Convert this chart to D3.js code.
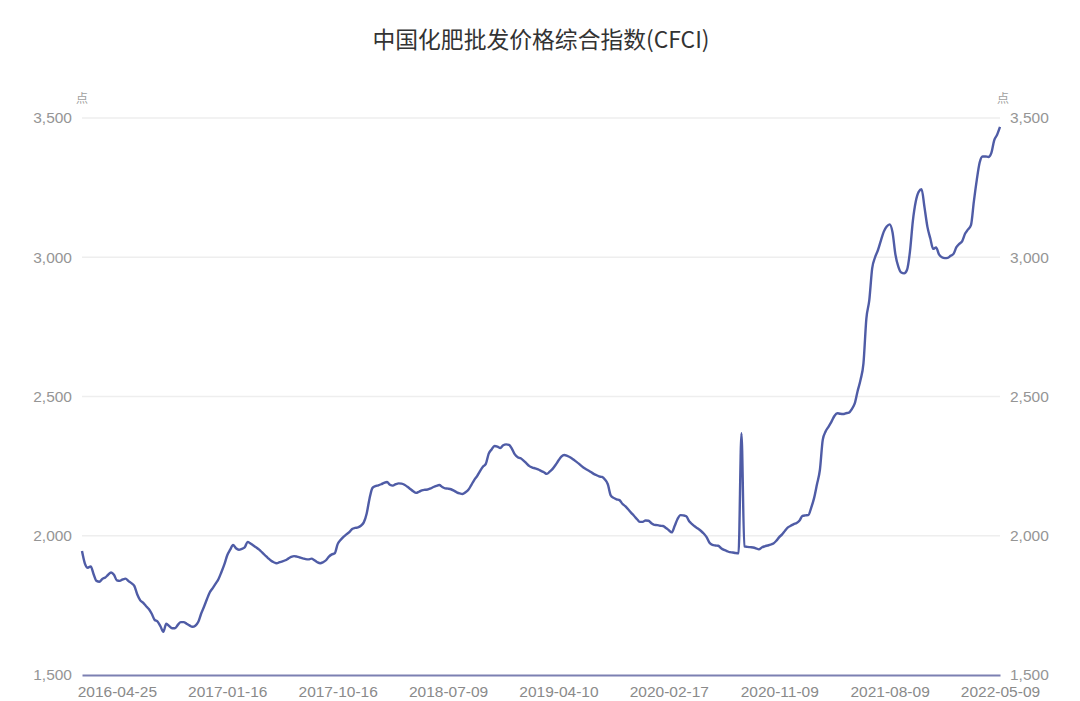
<!DOCTYPE html>
<html><head><meta charset="utf-8">
<script src="https://cdn.jsdelivr.net/npm/d3@7/dist/d3.min.js"></script>
<style>
html,body{margin:0;padding:0;background:#fff;}
svg{display:block;}
</style></head>
<body>
<svg id="chart" width="1080" height="701"></svg>
<script>
const title = "中国化肥批发价格综合指数(CFCI)";
const unitLabel = "点";
const yTicks = [1500, 2000, 2500, 3000, 3500];
const xTickIndex = [12, 50, 88, 126, 164, 202, 240, 278, 316];
const xTickLabels = ["2016-04-25","2017-01-16","2017-10-16","2018-07-09","2019-04-10","2020-02-17","2020-11-09","2021-08-09","2022-05-09"];
// weekly CFCI values
const values = [
1945,1900,1885,1890,1862,1838,1835,1845,1850,1860,
1868,1860,1840,1838,1843,1846,1837,1830,1820,1790,
1769,1760,1748,1737,1720,1698,1692,1675,1655,1684,
1676,1668,1668,1680,1690,1690,1684,1678,1673,1677,
1690,1720,1745,1772,1797,1812,1828,1845,1870,1897,
1930,1950,1967,1955,1950,1953,1958,1978,1972,1965,
1958,1950,1940,1930,1920,1911,1905,1901,1905,1908,
1912,1918,1924,1927,1925,1922,1919,1916,1915,1918,
1912,1905,1901,1905,1912,1925,1933,1937,1970,1985,
1996,2005,2013,2024,2028,2030,2036,2048,2080,2135,
2172,2178,2181,2185,2190,2193,2183,2180,2185,2188,
2187,2183,2176,2168,2160,2154,2158,2163,2165,2166,
2170,2175,2179,2182,2175,2170,2169,2167,2162,2156,
2152,2150,2156,2165,2182,2200,2214,2232,2248,2258,
2295,2310,2322,2320,2315,2325,2328,2326,2312,2292,
2282,2278,2270,2260,2250,2245,2242,2238,2233,2228,
2222,2230,2240,2254,2270,2284,2290,2287,2282,2275,
2267,2259,2250,2242,2236,2230,2223,2218,2213,2211,
2202,2185,2145,2136,2131,2128,2115,2106,2095,2083,
2072,2060,2050,2050,2055,2054,2045,2039,2038,2036,
2035,2028,2020,2012,2035,2060,2074,2073,2070,2052,
2042,2033,2026,2018,2008,1995,1975,1967,1965,1964,
1955,1949,1945,1941,1940,1938,1937,2368,1962,1960,
1959,1958,1955,1951,1958,1962,1965,1968,1972,1982,
1995,2005,2018,2030,2036,2042,2046,2055,2071,2073,
2074,2100,2135,2185,2236,2345,2375,2392,2410,2430,
2440,2438,2437,2440,2442,2455,2475,2520,2560,2619,
2780,2845,2960,3000,3026,3060,3092,3110,3118,3090,
3010,2966,2945,2942,2955,3020,3130,3200,3235,3244,
3180,3110,3068,3030,3035,3010,3000,2997,2998,3005,
3012,3036,3048,3058,3085,3100,3115,3200,3277,3340,
3362,3362,3360,3374,3420,3440,3468
];

const svg = d3.select("#chart");
const margin = {left: 82, right: 80, top: 118, bottom: 26};
const W = 1080, H = 701;
const x = d3.scaleLinear().domain([0, values.length - 1]).range([margin.left, W - margin.right]);
const y = d3.scaleLinear().domain([1500, 3500]).range([H - margin.bottom, margin.top]);

const numFont = "'Liberation Sans', Arial, 'DejaVu Sans', sans-serif";
const cjkFont = "'Noto Sans CJK SC', 'Noto Sans', sans-serif";

// title
svg.append("text").attr("x", 541).attr("y", 48).attr("text-anchor", "middle")
  .attr("font-family", cjkFont).attr("font-size", 22.8).attr("fill", "#333333").text(title);

// grid lines
svg.append("g").selectAll("line").data(yTicks.filter(d => d > 1500)).join("line")
  .attr("x1", margin.left).attr("x2", W - margin.right)
  .attr("y1", d => y(d)).attr("y2", d => y(d))
  .attr("stroke", "#eeeeee").attr("stroke-width", 1.5);

// left axis
const fmt = d3.format(",");
const leftAxis = d3.axisLeft(y).tickValues(yTicks).tickFormat(fmt).tickSize(0).tickPadding(10);
const gl = svg.append("g").attr("transform", `translate(${margin.left},0)`).call(leftAxis);
gl.select(".domain").remove();
gl.selectAll("text").attr("font-family", numFont).attr("font-size", 15.5).attr("fill", "#959595");

const rightAxis = d3.axisRight(y).tickValues(yTicks).tickFormat(fmt).tickSize(0).tickPadding(10);
const gr = svg.append("g").attr("transform", `translate(${W - margin.right},0)`).call(rightAxis);
gr.select(".domain").remove();
gr.selectAll("text").attr("font-family", numFont).attr("font-size", 15.5).attr("fill", "#959595");

// unit labels
svg.append("text").attr("x", margin.left).attr("y", 103).attr("text-anchor", "middle")
  .attr("font-family", cjkFont).attr("font-size", 12).attr("fill", "#a0a0a0").text(unitLabel);
svg.append("text").attr("x", W - margin.right + 3).attr("y", 103).attr("text-anchor", "middle")
  .attr("font-family", cjkFont).attr("font-size", 12).attr("fill", "#a0a0a0").text(unitLabel);

// x axis
const xAxis = d3.axisBottom(x).tickValues(xTickIndex).tickFormat((d, i) => xTickLabels[i]).tickSize(0).tickPadding(11);
const gx = svg.append("g").attr("transform", `translate(0,${y(1500)})`).call(xAxis);
gx.select(".domain").attr("stroke", "#7c80b2").attr("stroke-width", 2.2);
gx.selectAll("text").attr("font-family", numFont).attr("font-size", 15.5).attr("fill", "#8a8a8a");

// line
const line = d3.line().x((d, i) => x(i)).y(d => y(d)).curve(d3.curveMonotoneX);
svg.append("path").datum(values).attr("d", line)
  .attr("fill", "none").attr("stroke", "#4f5ca6").attr("stroke-width", 2.4)
  .attr("stroke-linejoin", "round");
</script>
</body></html>
